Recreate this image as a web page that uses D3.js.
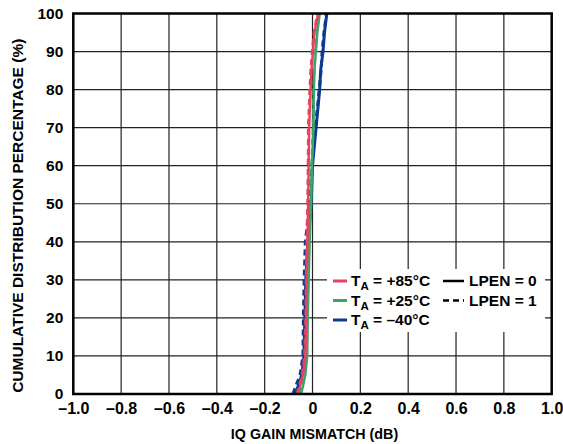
<!DOCTYPE html>
<html><head><meta charset="utf-8">
<script src="https://cdn.jsdelivr.net/npm/d3@7"></script>
<style>
body{margin:0;background:#fff;}
svg text{font-family:"Liberation Sans",Arial,sans-serif;font-weight:bold;fill:#000;}
</style></head>
<body>
<svg id="c" width="563" height="444"></svg>
<script>
const xTicks = [-1.0,-0.8,-0.6,-0.4,-0.2,0,0.2,0.4,0.6,0.8,1.0];
const xTickLabels = ["–1.0","–0.8","–0.6","–0.4","–0.2","0","0.2","0.4","0.6","0.8","1.0"];
const yTicks = [0,10,20,30,40,50,60,70,80,90,100];
const pct = [0,2,5,10,20,30,40,50,60,70,80,85,90,95,100];
const blue0 = [-0.075,-0.060,-0.045,-0.036,-0.032,-0.028,-0.020,-0.005,0.000,0.015,0.030,0.034,0.044,0.050,0.060];
const blue1 = [-0.082,-0.070,-0.052,-0.040,-0.038,-0.035,-0.030,-0.012,-0.002,0.012,0.028,0.036,0.040,0.048,0.058];
const red0  = [-0.062,-0.052,-0.040,-0.030,-0.026,-0.024,-0.021,-0.018,-0.016,-0.014,-0.008,-0.004,0.002,0.008,0.024];
const red1  = [-0.066,-0.056,-0.044,-0.034,-0.029,-0.027,-0.024,-0.021,-0.019,-0.018,-0.012,-0.008,-0.002,0.006,0.020];
const green0= [-0.048,-0.040,-0.030,-0.022,-0.020,-0.016,-0.012,-0.006,-0.002,0.004,0.006,0.008,0.014,0.020,0.030];
const green1= [-0.052,-0.044,-0.034,-0.026,-0.022,-0.018,-0.014,-0.008,-0.004,0.002,0.004,0.008,0.012,0.018,0.028];
const seriesNames = ["+85°C","+25°C","–40°C"];
const colors = {blue:"#0b3a8e", red:"#e8435e", green:"#3aa56c"};

const svg = d3.select("#c");
const L=73.3, R=551.7, T=13.5, B=394;
const x = d3.scaleLinear().domain([-1,1]).range([L,R]);
const y = d3.scaleLinear().domain([0,100]).range([B,T]);

// grid
svg.append("g").selectAll("line").data(yTicks.slice(1,-1)).join("line")
  .attr("x1",L).attr("x2",R).attr("y1",d=>y(d)).attr("y2",d=>y(d))
  .attr("stroke","#222").attr("stroke-width",1.2);
svg.append("g").selectAll("line").data(xTicks.slice(1,-1)).join("line")
  .attr("y1",T).attr("y2",B).attr("x1",d=>x(d)).attr("x2",d=>x(d))
  .attr("stroke","#222").attr("stroke-width",1.2);

// axes labels
const yAxis = d3.axisLeft(y).tickValues(yTicks).tickSize(0).tickPadding(10).tickFormat(d3.format("d"));
const gy = svg.append("g").attr("transform",`translate(${L},0)`).call(yAxis);
gy.select(".domain").remove();
gy.selectAll("text").style("font-size","15.5px").style("font-family","Liberation Sans, Arial, sans-serif").style("font-weight","bold");

const xAxis = d3.axisBottom(x).tickValues(xTicks).tickSize(0).tickPadding(9).tickFormat((d,i)=>xTickLabels[i]);
const gx = svg.append("g").attr("transform",`translate(0,${B})`).call(xAxis);
gx.select(".domain").remove();
gx.selectAll("text").style("font-size","16px").style("font-family","Liberation Sans, Arial, sans-serif").style("font-weight","bold");

// curves
const line = d3.line().x(d=>x(d[0])).y(d=>y(d[1]));
const curves = [
  {v:blue0,c:colors.blue,dash:null,w:3},
  {v:blue1,c:colors.blue,dash:"6,4",w:3},
  {v:green0,c:colors.green,dash:null,w:2.5},
  {v:green1,c:colors.green,dash:"6,4",w:2.5},
  {v:red0,c:colors.red,dash:null,w:2.5},
  {v:red1,c:colors.red,dash:"6,4",w:2.5}
];
svg.append("clipPath").attr("id","pc").append("rect").attr("x",L).attr("y",T-2).attr("width",R-L).attr("height",B-T+2);
svg.append("g").attr("clip-path","url(#pc)").selectAll("path").data(curves).join("path")
  .attr("d",d=>line(d.v.map((vv,i)=>[vv,pct[i]])))
  .attr("fill","none").attr("stroke",d=>d.c).attr("stroke-width",d=>d.w)
  .attr("stroke-dasharray",d=>d.dash);

// legend
const lg = svg.append("g");
lg.append("rect").attr("x",327).attr("y",269).attr("width",218).attr("height",63).attr("fill","#fff");
const legColors=[colors.red,colors.green,colors.blue];
const rows=[281,300.5,320];
seriesNames.forEach((n,i)=>{
  lg.append("line").attr("x1",333).attr("x2",347).attr("y1",rows[i]).attr("y2",rows[i])
    .attr("stroke",legColors[i]).attr("stroke-width",3);
  const t = lg.append("text").attr("x",351).attr("y",rows[i]+5).style("font-size","15.5px");
  t.append("tspan").text("T");
  t.append("tspan").attr("dy",4).style("font-size","11.5px").text("A");
  t.append("tspan").attr("dy",-4).text(" = "+n);
});
lg.append("line").attr("x1",443).attr("x2",464).attr("y1",rows[0]).attr("y2",rows[0]).attr("stroke","#000").attr("stroke-width",2.5);
lg.append("line").attr("x1",443).attr("x2",464).attr("y1",rows[1]).attr("y2",rows[1]).attr("stroke","#000").attr("stroke-width",2.5).attr("stroke-dasharray","6,4");
lg.append("text").attr("x",469).attr("y",rows[0]+5).style("font-size","15.5px").text("LPEN = 0");
lg.append("text").attr("x",469).attr("y",rows[1]+5).style("font-size","15.5px").text("LPEN = 1");

// border
svg.append("rect").attr("x",L).attr("y",T).attr("width",R-L).attr("height",B-T)
  .attr("fill","none").attr("stroke","#000").attr("stroke-width",2.5);

// titles
svg.append("text").attr("x",(L+R)/2+2).attr("y",439).attr("text-anchor","middle").style("font-size","14.3px").text("IQ GAIN MISMATCH (dB)");
svg.append("text").attr("transform",`translate(23,${(T+B)/2+12}) rotate(-90)`).attr("text-anchor","middle").style("font-size","15.5px").text("CUMULATIVE DISTRIBUTION PERCENTAGE (%)");
</script>
</body></html>
